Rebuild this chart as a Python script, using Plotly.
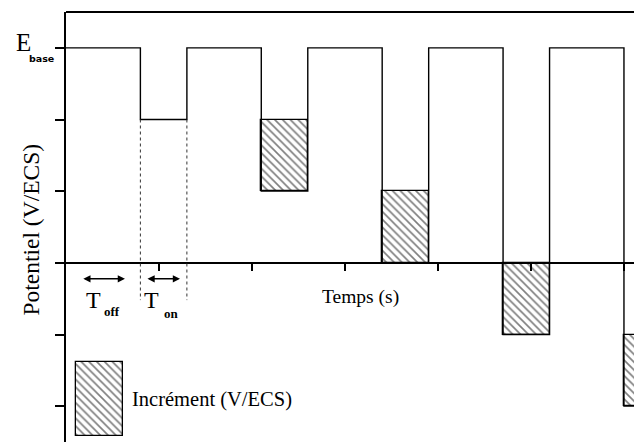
import plotly.graph_objects as go

# Pulsed potential programme: base potential and successive pulse levels (V/ECS units)
e_base = 3
pulse_start = [0.8, 2.1, 3.4, 4.7, 6.0]      # time at which each pulse begins (s)
t_on = 0.5                                     # pulse duration (s)
pulse_level = [2, 1, 0, -1, -2]               # potential reached during each pulse
y_ticks = [-2, -1, 0, 1, 2, 3]
x_ticks = [1, 2, 3, 4, 5, 6]

SERIF = "Liberation Serif"
x_max = 6.108
y_min, y_max = -2.5, 3.5

# step waveform: E_base during T_off, pulse level during T_on
wx, wy = [0.0], [e_base]
for t0, lvl in zip(pulse_start, pulse_level):
    wx += [t0, t0, t0 + t_on, t0 + t_on]
    wy += [e_base, lvl, lvl, e_base]
wx.append(7.0)
wy.append(e_base)

fig = go.Figure()

# hatched increment between consecutive pulse levels
inc_x, inc_base, inc_h = [], [], []
for i in range(1, len(pulse_level)):
    inc_x.append(pulse_start[i] + t_on / 2)
    inc_base.append(pulse_level[i - 1])
    inc_h.append(pulse_level[i] - pulse_level[i - 1])

hatch = dict(shape="\\", size=5.5, solidity=0.3, fgcolor="black", bgcolor="white")

fig.add_trace(go.Bar(
    x=inc_x, y=inc_h, base=inc_base, width=t_on,
    marker=dict(color="white", pattern=hatch, line=dict(color="black", width=1.3)),
    showlegend=False, hoverinfo="skip",
))

# legend swatch for the increment
fig.add_trace(go.Bar(
    x=[0.36], y=[1.03], base=[-2.41], width=[0.505],
    marker=dict(color="white", pattern=hatch, line=dict(color="black", width=1.3)),
    showlegend=False, hoverinfo="skip",
))

fig.add_trace(go.Scatter(
    x=wx, y=wy, mode="lines",
    line=dict(color="black", width=1.4, shape="linear"),
    showlegend=False, hoverinfo="skip",
))

# dotted guides marking the first pulse
shapes = []
for xv in (pulse_start[0], pulse_start[0] + t_on):
    shapes.append(dict(type="line", xref="x", yref="y", x0=xv, x1=xv,
                       y0=pulse_level[0], y1=-0.52,
                       line=dict(color="#333", width=1, dash="dot")))
# top frame line
shapes.append(dict(type="line", xref="paper", yref="paper", x0=0, x1=1, y0=1, y1=1,
                   line=dict(color="black", width=2)))

ann = []
# double arrows for T_off and T_on
for xa, xb in ((0.17, 0.634), (0.86, 1.226)):
    ann.append(dict(x=xb, y=-0.223, ax=xa, ay=-0.223, xref="x", yref="y",
                    axref="x", ayref="y", text="", showarrow=True,
                    arrowhead=2, arrowside="end+start", arrowsize=0.9,
                    arrowwidth=1.6, arrowcolor="black"))

ann += [
    dict(x=0.395, y=-0.52, text="T", xref="x", yref="y", showarrow=False,
         xanchor="right", font=dict(family=SERIF, size=24, color="black")),
    dict(x=0.39, y=-0.68, text="<b>off</b>", xref="x", yref="y", showarrow=False,
         xanchor="left", font=dict(family=SERIF, size=13, color="black")),
    dict(x=1.025, y=-0.52, text="T", xref="x", yref="y", showarrow=False,
         xanchor="right", font=dict(family=SERIF, size=24, color="black")),
    dict(x=1.03, y=-0.70, text="<b>on</b>", xref="x", yref="y", showarrow=False,
         xanchor="left", font=dict(family=SERIF, size=13, color="black")),
    dict(x=3.165, y=-0.47, text="Temps (s)", xref="x", yref="y", showarrow=False,
         font=dict(family=SERIF, size=19.5, color="black")),
    dict(x=0.69, y=-1.91, text="Incrément (V/ECS)", xref="x", yref="y",
         showarrow=False, xanchor="left",
         font=dict(family=SERIF, size=20.5, color="black")),
    dict(x=-0.0616, y=0.494, text="Potentiel (V/ECS)", xref="paper", yref="paper",
         showarrow=False, textangle=-90, xanchor="center", yanchor="middle",
         font=dict(family=SERIF, size=23.5, color="black")),
    dict(x=-0.058, y=e_base + 0.07, text="E", xref="paper", yref="y", showarrow=False,
         xanchor="right", font=dict(family=SERIF, size=25, color="black")),
    dict(x=-0.068, y=e_base - 0.15, text="<b>base</b>", xref="paper", yref="y",
         showarrow=False, xanchor="left",
         font=dict(family="DejaVu Sans", size=9.5, color="black")),
]

fig.update_layout(
    width=634, height=442,
    margin=dict(l=66, r=0, t=12, b=0),
    paper_bgcolor="white", plot_bgcolor="white",
    barmode="overlay", bargap=0,
    shapes=shapes, annotations=ann,
    xaxis=dict(range=[0, x_max], anchor="free", position=(0 - y_min) / (y_max - y_min),
               showgrid=False, zeroline=False, showline=True, linecolor="black",
               linewidth=2, ticks="outside", tickvals=x_ticks, ticklen=7,
               tickwidth=1.5, tickcolor="black", showticklabels=False),
    yaxis=dict(range=[y_min, y_max], showgrid=False, zeroline=False, showline=True,
               linecolor="black", linewidth=2, ticks="outside", tickvals=y_ticks,
               ticklen=9, tickwidth=2, tickcolor="black", showticklabels=False),
)

fig.write_html("out.html")
